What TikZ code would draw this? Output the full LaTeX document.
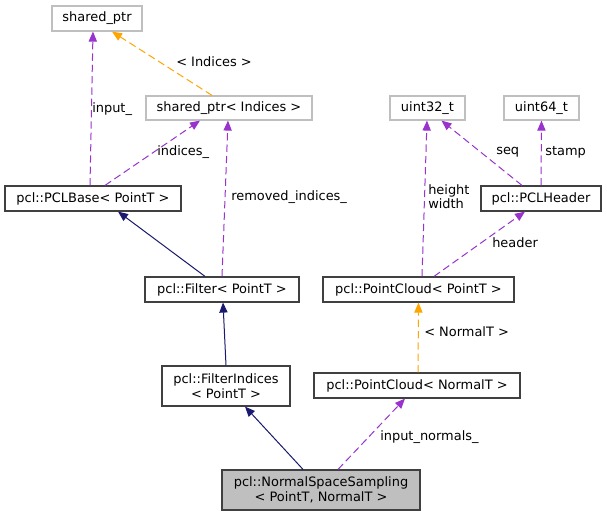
\documentclass[tikz,border=0pt]{standalone}
\usepackage{fontspec}
\setmainfont{DejaVu Sans}
\usetikzlibrary{arrows.meta,calc}
\definecolor{purp}{HTML}{9A32CD}
\definecolor{navy}{HTML}{191970}
\definecolor{orng}{HTML}{FFA500}
\definecolor{gborder}{HTML}{BFBFBF}
\definecolor{bborder}{HTML}{404040}
\definecolor{gfill}{HTML}{BFBFBF}
\tikzset{
  cls/.style={draw=bborder, line width=0.9pt, inner sep=0pt, align=center, font=\fontsize{9.7}{11.25}\selectfont},
  ext/.style={draw=gborder, line width=0.9pt, inner sep=0pt, align=center, font=\fontsize{9.7}{11.25}\selectfont},
  lbl/.style={anchor=west, inner sep=0pt, align=left, font=\fontsize{9.7}{10.5}\selectfont},
  dep/.style={draw=purp, line width=0.75pt, dash pattern=on 5.5pt off 3pt, -{Triangle[length=7.5pt,width=6.2pt,fill=purp]}},
  tmpl/.style={draw=orng, line width=0.75pt, dash pattern=on 5.5pt off 3pt, -{Triangle[length=7.5pt,width=6.2pt,fill=orng]}},
  inh/.style={draw=navy, line width=0.75pt, -{Triangle[length=7.5pt,width=6.2pt,fill=navy]}},
}
\begin{document}
\begin{tikzpicture}[x=0.75pt,y=-0.75pt]
\useasboundingbox (0,0) rectangle (607,516);
\node[ext, minimum width=90*0.75pt, minimum height=25*0.75pt] (sp) at (97,18.5) {shared\_ptr};
\node[ext, minimum width=166*0.75pt, minimum height=24*0.75pt] (spi) at (229,108) {shared\_ptr< Indices >};
\node[ext, minimum width=75*0.75pt, minimum height=24*0.75pt] (u32) at (427.5,108) {uint32\_t};
\node[ext, minimum width=75*0.75pt, minimum height=24*0.75pt] (u64) at (541.5,108) {uint64\_t};
\node[cls, minimum width=176*0.75pt, minimum height=25*0.75pt] (base) at (93,198.5) {pcl::PCLBase< PointT >};
\node[cls, minimum width=120*0.75pt, minimum height=25*0.75pt] (hdr) at (541,198.5) {pcl::PCLHeader};
\node[cls, minimum width=154*0.75pt, minimum height=25*0.75pt] (filt) at (222,289.5) {pcl::Filter< PointT >};
\node[cls, minimum width=191*0.75pt, minimum height=25*0.75pt] (pcpt) at (418.5,289.5) {pcl::PointCloud< PointT >};
\node[cls, minimum width=128*0.75pt, minimum height=40*0.75pt] (fi) at (226,386) {pcl::FilterIndices\\< PointT >};
\node[cls, minimum width=206*0.75pt, minimum height=25*0.75pt] (pcnt) at (417,385.5) {pcl::PointCloud< NormalT >};
\node[cls, fill=gfill, minimum width=198*0.75pt, minimum height=40*0.75pt] (nss) at (321,490) {pcl::NormalSpaceSampling\\< PointT, NormalT >};

% dependencies
\draw[dep] ($(base.north)+(-3,0)$) -- ($(sp.south)+(-4,0)$);
\draw[dep] ($(base.north)+(12,0)$) -- ($(spi.south)+(-29,0)$);
\draw[tmpl] ($(spi.north)+(-17,0)$) -- ($(sp.south)+(15,0)$);
\draw[dep] (filt.north) -- ($(spi.south)+(-1,0)$);
\draw[dep] ($(hdr.north)+(-19,0)$) -- ($(u32.south)+(14,0)$);
\draw[dep] (hdr.north) -- (u64.south);
\draw[dep] ($(pcpt.north)+(3.5,0)$) -- ($(u32.south)+(-0.5,0)$);
\draw[dep] ($(pcpt.north)+(15.5,0)$) -- ($(hdr.south)+(-16,0)$);
\draw[tmpl] ($(pcnt.north)+(1,0)$) -- (pcpt.south);
\draw[dep] ($(nss.north)+(17,0)$) -- ($(pcnt.south)+(-12,0)$);
% inheritance
\draw[inh] ($(filt.north)+(-17,0)$) -- ($(base.south)+(25,0)$);
\draw[inh] (fi.north) -- ($(filt.south)+(1,0)$);
\draw[inh] ($(nss.north)+(-18,0)$) -- ($(fi.south)+(19,0)$);

% labels
\node[lbl] (l1) at (92,109) {input\_};
\node[lbl] (l2) at (157,152) {indices\_};
\node[lbl] (l3) at (176,62) {< Indices >};
\node[lbl] (l4) at (231,197) {removed\_indices\_};
\node[lbl] (l5) at (496,152) {seq};
\node[lbl] (l6) at (545,152) {stamp};
\node[lbl] (l7) at (428,197) {height\\width};
\node[lbl] (l8) at (492,243) {header};
\node[lbl] (l9) at (424,332) {< NormalT >};
\node[lbl] (l10) at (380,437) {input\_normals\_};
\end{tikzpicture}
\end{document}
